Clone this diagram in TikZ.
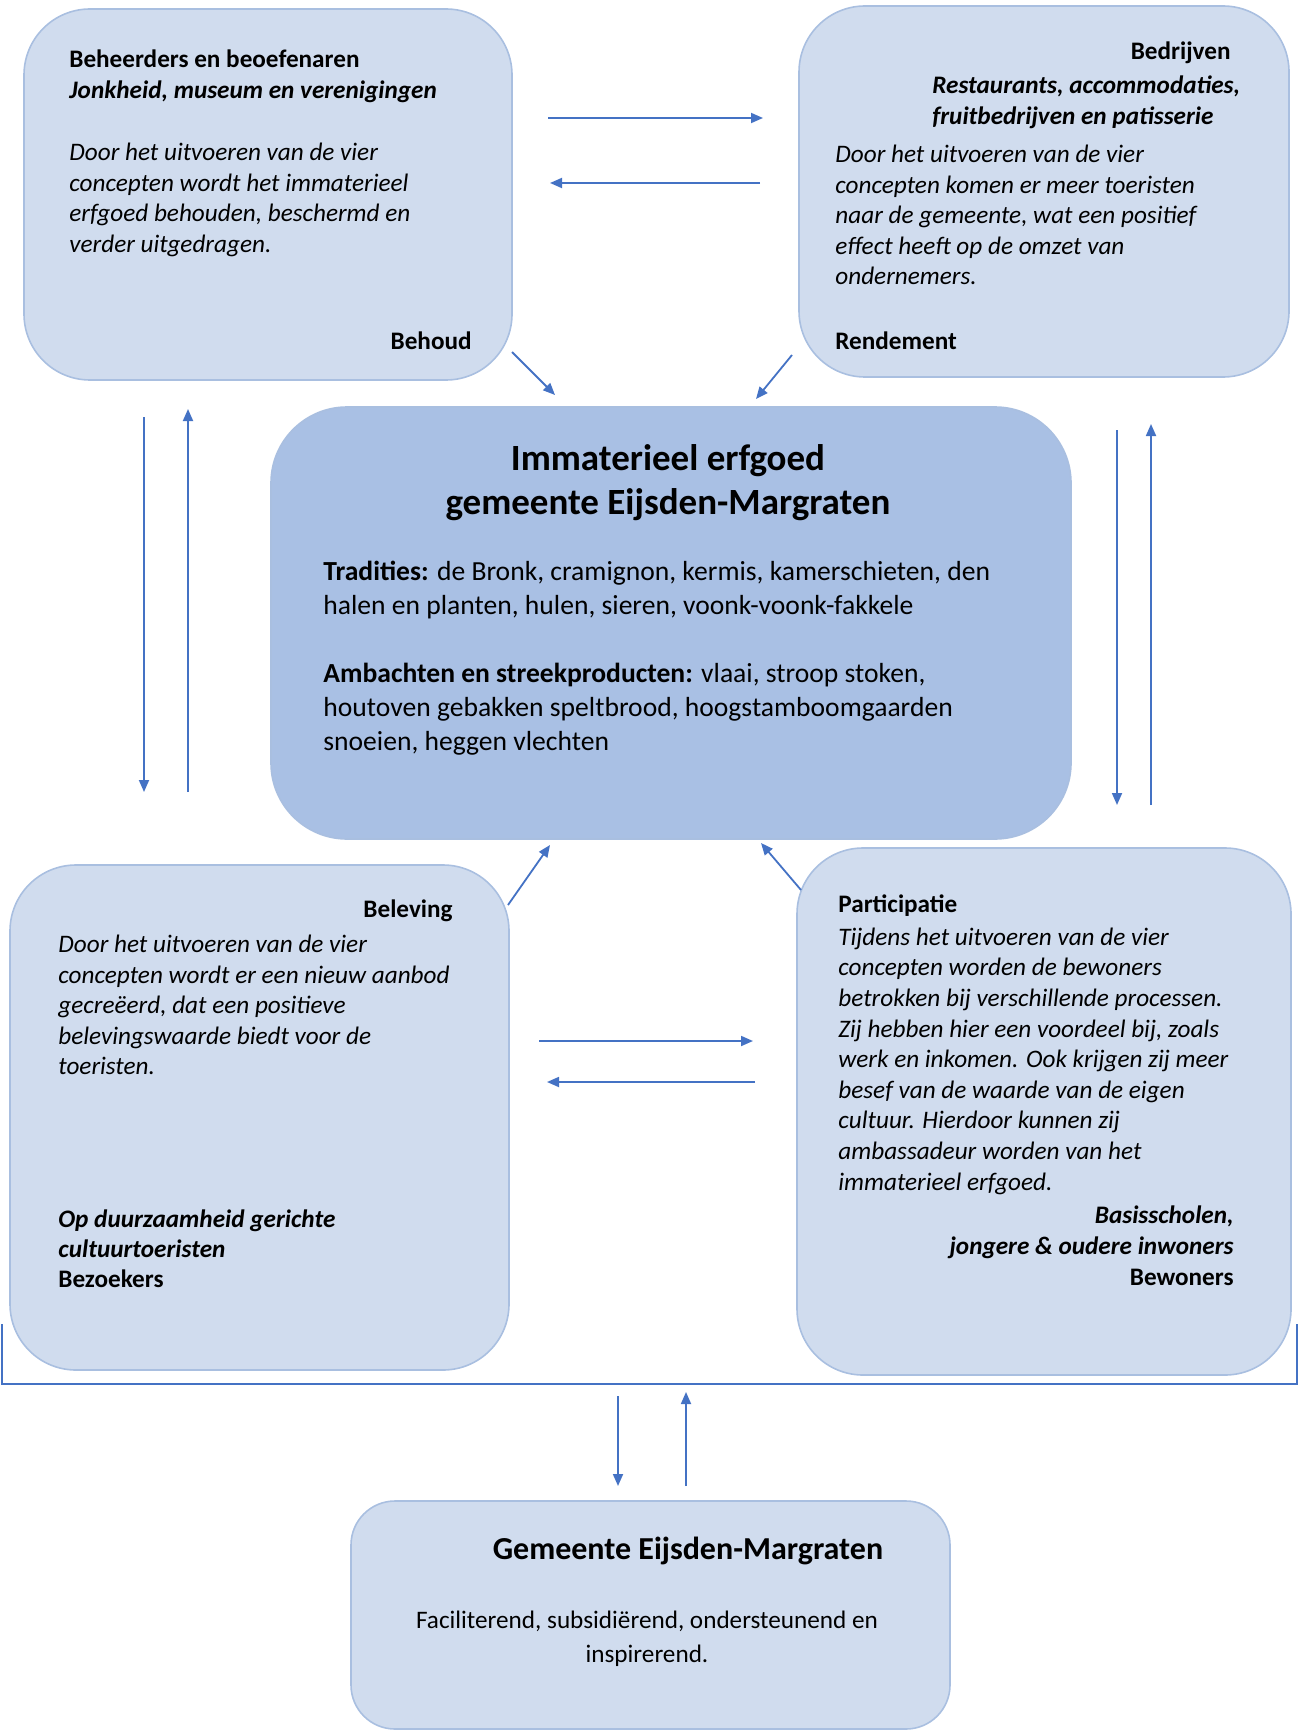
\documentclass[tikz,border=0pt]{standalone}
\usepackage{fontspec}
\setmainfont{Carlito}
\usetikzlibrary{arrows.meta}
\definecolor{boxfill}{HTML}{D0DCEE}
\definecolor{boxline}{HTML}{A9BFE0}
\definecolor{corefill}{HTML}{A9C0E4}
\definecolor{arrowblue}{HTML}{4472C4}
\begin{document}
\begin{tikzpicture}[x=0.5pt,y=-0.5pt,
        box/.style={draw=boxline,fill=boxfill,line width=0.8pt,rounded corners=33pt,inner sep=0pt},
        arr/.style={draw=arrowblue,line width=0.9pt,-{Triangle[length=6pt,width=5pt]}},
        txt/.style={inner sep=0pt},
        body/.style={txt,align=left,font=\fontsize{12.6}{15.3}\selectfont\itshape}]
    \useasboundingbox (0,0) rectangle (1300,1733);
    \begin{scope}[every node/.style={box}]
        \node (TL) at (268,194.5) [minimum width=244pt,minimum height=185.5pt] {};
        \node (TR) at (1044,191.5) [minimum width=245pt,minimum height=185.5pt] {};
        \node (C) at (671,623) [minimum width=400pt,minimum height=216pt,fill=corefill,rounded corners=38pt] {};
        \node (BL) at (259.5,1117.5) [minimum width=249.5pt,minimum height=252.5pt] {};
        \node (BR) at (1044,1111.5) [minimum width=247pt,minimum height=263.5pt] {};
        \node (G) at (650.5,1615) [minimum width=299.5pt,minimum height=114pt,rounded corners=22pt] {};
    \end{scope}
    \node[txt,anchor=west,font=\fontsize{12.6}{15}\selectfont\bfseries] (TLhead) at (69,59) {Beheerders en beoefenaren};
    \node[txt,anchor=west,font=\fontsize{12.6}{15}\selectfont\bfseries\itshape] (TLsub) at (69,92) {Jonkheid, museum en verenigingen};
    \node[body,anchor=west] (TLtext) at (69,200) {Door het uitvoeren van de vier\\concepten wordt het immaterieel\\erfgoed behouden, beschermd en\\verder uitgedragen.};
    \node[txt,anchor=east,font=\fontsize{12.6}{15}\selectfont\bfseries] (TLfoot) at (472,341) {Behoud};
    \node[txt,anchor=east,font=\fontsize{12.6}{15}\selectfont\bfseries] (TRhead) at (1231,53) {Bedrijven};
    \node[txt,anchor=west,align=left,font=\fontsize{12.6}{15.5}\selectfont\bfseries\itshape] (TRsub) at (932,102.5) {Restaurants, accommodaties,\\fruitbedrijven en patisserie};
    \node[body,anchor=west] (TRtext) at (835,215) {Door het uitvoeren van de vier\\concepten komen er meer toeristen\\naar de gemeente, wat een positief\\effect heeft op de omzet van\\ondernemers.};
    \node[txt,anchor=west,font=\fontsize{12.6}{15}\selectfont\bfseries] (TRfoot) at (835,341) {Rendement};
    \node[txt,align=center,font=\fontsize{18.5}{22}\selectfont\bfseries] (Ctitle) at (668,482.5) {Immaterieel erfgoed\\gemeente Eijsden-Margraten};
    \node[txt,anchor=west,align=left,font=\fontsize{13.8}{17}\selectfont] (Ctext) at (323,658) {\textbf{Tradities:} de Bronk, cramignon, kermis, kamerschieten, den\\halen en planten, hulen, sieren, voonk-voonk-fakkele\\[17pt]\textbf{Ambachten en streekproducten:} vlaai, stroop stoken,\\houtoven gebakken speltbrood, hoogstamboomgaarden\\snoeien, heggen vlechten};
    \node[txt,anchor=east,font=\fontsize{12.6}{15}\selectfont\bfseries] (BLhead) at (453,911) {Beleving};
    \node[body,anchor=west] (BLtext) at (58,1005) {Door het uitvoeren van de vier\\concepten wordt er een nieuw aanbod\\gecreëerd, dat een positieve\\belevingswaarde biedt voor de\\toeristen.};
    \node[txt,anchor=west,align=left,font=\fontsize{12.6}{15}\selectfont\bfseries] (BLfoot) at (58,1249) {\itshape Op duurzaamheid gerichte\\\itshape cultuurtoeristen\\Bezoekers};
    \node[txt,anchor=west,font=\fontsize{12.6}{15}\selectfont\bfseries] (BRhead) at (838,906) {Participatie};
    \node[body,anchor=west] (BRtext) at (838,1061) {Tijdens het uitvoeren van de vier\\concepten worden de bewoners\\betrokken bij verschillende processen.\\Zij hebben hier een voordeel bij, zoals\\werk en inkomen. Ook krijgen zij meer\\besef van de waarde van de eigen\\cultuur. Hierdoor kunnen zij\\ambassadeur worden van het\\immaterieel erfgoed.};
    \node[txt,anchor=east,align=right,font=\fontsize{12.6}{15.5}\selectfont\bfseries] (BRfoot) at (1234,1246) {\itshape Basisscholen,\\\itshape jongere \& oudere inwoners\\Bewoners};
    \node[txt,font=\fontsize{16}{20}\selectfont\bfseries] (Gtitle) at (688,1551) {Gemeente Eijsden-Margraten};
    \node[txt,align=center,font=\fontsize{12.6}{17}\selectfont] (Gtext) at (647,1639) {Faciliterend, subsidiërend, ondersteunend en\\inspirerend.};
    \coordinate (TLTRa) at (548,118);
    \coordinate (TLTRb) at (763,118);
    \coordinate (TRTLa) at (760,183);
    \coordinate (TRTLb) at (550,183);
    \coordinate (TLCa) at (512,352);
    \coordinate (TLCb) at (555,395);
    \coordinate (TRCa) at (792,355);
    \coordinate (TRCb) at (756,399);
    \coordinate (TLBLa) at (144,417);
    \coordinate (TLBLb) at (144,792);
    \coordinate (BLTLa) at (188,792);
    \coordinate (BLTLb) at (188,409);
    \coordinate (TRBRa) at (1117,430);
    \coordinate (TRBRb) at (1117,805);
    \coordinate (BRTRa) at (1151,805);
    \coordinate (BRTRb) at (1151,424);
    \coordinate (BLCa) at (508,905);
    \coordinate (BLCb) at (550,845);
    \coordinate (BRCa) at (801,890);
    \coordinate (BRCb) at (761,843);
    \coordinate (BLBRa) at (539,1041);
    \coordinate (BLBRb) at (753,1041);
    \coordinate (BRBLa) at (755,1082);
    \coordinate (BRBLb) at (547,1082);
    \coordinate (ALLGa) at (618,1396);
    \coordinate (ALLGb) at (618,1486);
    \coordinate (GALLa) at (686,1486);
    \coordinate (GALLb) at (686,1392);
    \draw[arr] (TLTRa) -- (TLTRb);
    \draw[arr] (TRTLa) -- (TRTLb);
    \draw[arr] (TLCa) -- (TLCb);
    \draw[arr] (TRCa) -- (TRCb);
    \draw[arr] (TLBLa) -- (TLBLb);
    \draw[arr] (BLTLa) -- (BLTLb);
    \draw[arr] (TRBRa) -- (TRBRb);
    \draw[arr] (BRTRa) -- (BRTRb);
    \draw[arr] (BLCa) -- (BLCb);
    \draw[arr] (BRCa) -- (BRCb);
    \draw[arr] (BLBRa) -- (BLBRb);
    \draw[arr] (BRBLa) -- (BRBLb);
    \draw[arr] (ALLGa) -- (ALLGb);
    \draw[arr] (GALLa) -- (GALLb);
    \draw[draw=arrowblue,line width=0.9pt] (2,1324) -- (2,1384) -- (1297,1384) -- (1297,1324);
\end{tikzpicture}
\end{document}
